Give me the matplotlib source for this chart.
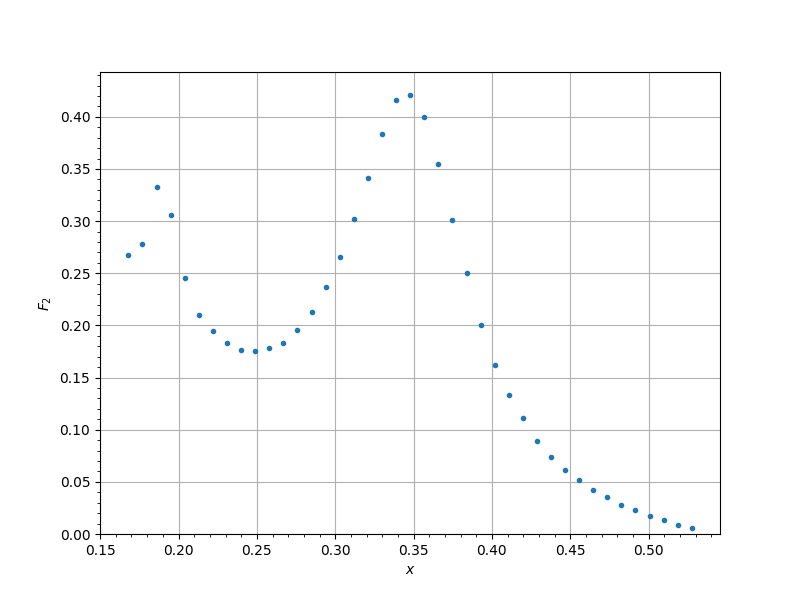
import numpy as np
import matplotlib
matplotlib.use("Agg")
import matplotlib.pyplot as plt

x = [0.1680, 0.1770, 0.1860, 0.1950, 0.2040, 0.2130, 0.2219, 0.2309, 0.2399,
     0.2489, 0.2579, 0.2669, 0.2759, 0.2849, 0.2939, 0.3029, 0.3118, 0.3208,
     0.3298, 0.3388, 0.3478, 0.3568, 0.3658, 0.3748, 0.3838, 0.3928, 0.4017,
     0.4107, 0.4197, 0.4287, 0.4377, 0.4467, 0.4557, 0.4647, 0.4737, 0.4827,
     0.4916, 0.5006, 0.5096, 0.5186, 0.5276]
F2 = [0.268, 0.278, 0.333, 0.306, 0.245, 0.210, 0.195, 0.183, 0.176, 0.175,
      0.178, 0.183, 0.196, 0.213, 0.237, 0.266, 0.302, 0.341, 0.384, 0.416,
      0.421, 0.400, 0.355, 0.301, 0.250, 0.200, 0.162, 0.133, 0.111, 0.089,
      0.074, 0.061, 0.052, 0.042, 0.035, 0.028, 0.023, 0.017, 0.013, 0.009,
      0.006]

fig, ax = plt.subplots(figsize=(8, 6), dpi=100)
ax.plot(x, F2, '.')
ax.set_ylim(0, 0.443)
ax.set_xlim(left=0.1499)
ax.minorticks_on()
ax.grid(True)
ax.set_xlabel('$x$')
ax.set_ylabel('$F_2$')
fig.savefig('out.png')
